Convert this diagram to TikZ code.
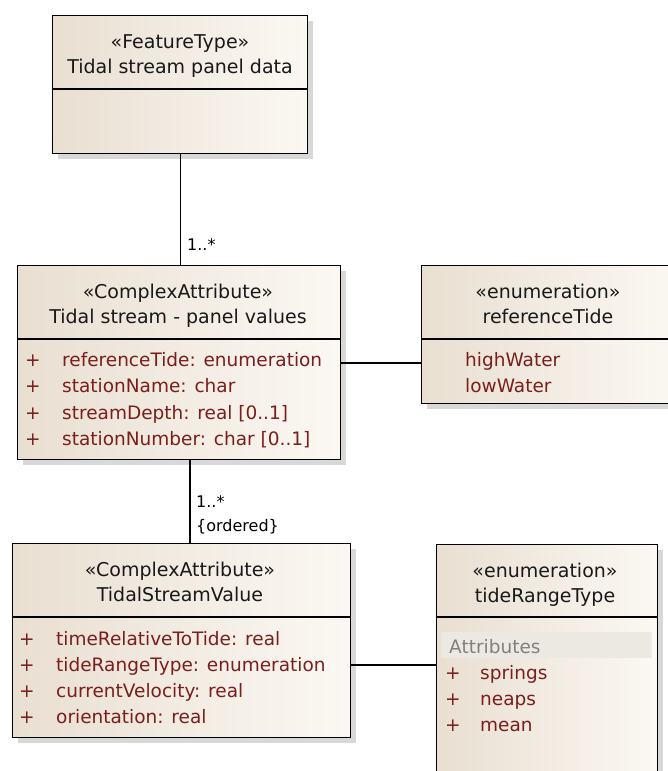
\documentclass[tikz,border=0pt]{standalone}
\usepackage{fontspec}
\setmainfont{DejaVu Sans}
\usetikzlibrary{shadows}
\definecolor{boxdark}{RGB}{233,223,209}
\definecolor{boxlight}{RGB}{251,248,243}
\definecolor{attrred}{RGB}{122,30,30}
\definecolor{bandgrey}{RGB}{236,232,226}

\begin{document}
\begin{tikzpicture}[x=1pt,y=-1pt,
    umlbox/.style={draw=black,line width=1.3pt,left color=boxdark,right color=boxlight,
        anchor=north west,inner sep=0pt,
        drop shadow={shadow xshift=5pt,shadow yshift=-5pt,fill=black!30}},
    headtxt/.style={font=\fontsize{19}{26}\selectfont,text=black!90,anchor=base,inner sep=0pt},
    attrtxt/.style={font=\fontsize{18.5}{26}\selectfont,text=attrred,anchor=base west,inner sep=0pt},
    multtxt/.style={font=\fontsize{16}{20}\selectfont,anchor=base west,inner sep=0pt}]
                    \path[use as bounding box,fill=white] (0,0) rectangle (668,771);
                    % boxes
                    \node[umlbox,minimum width=255pt,minimum height=138pt] (feat) at (52,15) {};
                    \node[umlbox,minimum width=323pt,minimum height=194pt] (panel) at (17,265) {};
                    \node[umlbox,minimum width=254pt,minimum height=138pt] (reftide) at (421,265) {};
                    \node[umlbox,minimum width=338pt,minimum height=194pt] (value) at (12,543) {};
                    \node[umlbox,minimum width=221pt,minimum height=260pt] (range) at (436,544) {};
                    \draw[line width=1.3pt] (52,89)--(307,89);
                    \draw[line width=1.3pt] (17,339)--(340,339);
                    \draw[line width=1.3pt] (421,339)--(675,339);
                    \draw[line width=1.3pt] (12,617)--(350,617);
                    \draw[line width=1.3pt] (436,617)--(657,617);
                    % headers
                    \node[headtxt] (featst) at (180,48) {«FeatureType»};
                    \node[headtxt] (featnm) at (180,73) {Tidal stream panel data};
                    \node[headtxt] (panelst) at (178,298) {«ComplexAttribute»};
                    \node[headtxt] (panelnm) at (178,323) {Tidal stream - panel values};
                    \node[headtxt] (reftidest) at (548,298) {«enumeration»};
                    \node[headtxt] (reftidenm) at (548,323) {referenceTide};
                    \node[headtxt] (valuest) at (180,576) {«ComplexAttribute»};
                    \node[headtxt] (valuenm) at (180,601) {TidalStreamValue};
                    \node[headtxt] (rangest) at (545,577) {«enumeration»};
                    \node[headtxt] (rangenm) at (545,602) {tideRangeType};
                    % attributes
                    \foreach \a [count=\i from 0] in {{referenceTide: enumeration},{stationName: char},{streamDepth: real [0..1]},{stationNumber: char [0..1]}}{
                        \node[attrtxt] (pplus\i) at (25,366+26.5*\i) {+};
                        \node[attrtxt] (pattr\i) at (62,366+26.5*\i) {\a};
                    }
                    \foreach \a [count=\i from 0] in {{timeRelativeToTide: real},{tideRangeType: enumeration},{currentVelocity: real},{orientation: real}}{
                        \node[attrtxt] (vplus\i) at (19,645+26*\i) {+};
                        \node[attrtxt] (vattr\i) at (56,645+26*\i) {\a};
                    }
                    \node[attrtxt] (high) at (465,366) {highWater};
                    \node[attrtxt] (low) at (465,392) {lowWater};
                    \fill[bandgrey] (441,632) rectangle (652,658);
                    \node[attrtxt,text=black!50] (rangehd) at (449,653) {Attributes};
                    \foreach \a [count=\i from 0] in {springs,neaps,mean}{
                        \node[attrtxt] (rplus\i) at (445,679+26*\i) {+};
                        \node[attrtxt] (rattr\i) at (480,679+26*\i) {\a};
                    }
                    % connectors
                    \coordinate (r1) at (0,363);
                    \coordinate (r2) at (0,665);
                    \coordinate (c2) at (190,0);
                    \draw[line width=1.3pt] (feat.south)--(feat.south |- panel.north);
                    \draw[line width=1.3pt] (panel.south -| c2)--(value.north -| c2);
                    \draw[line width=1.3pt] (panel.east |- r1)--(reftide.west |- r1);
                    \draw[line width=1.3pt] (value.east |- r2)--(range.west |- r2);
                    \node[multtxt] (m1) at (187,250) {1..*};
                    \node[multtxt] (m2) at (196,507) {1..*};
                    \node[multtxt] (m3) at (196,531) {\{ordered\}};
                \end{tikzpicture}
\end{document}
